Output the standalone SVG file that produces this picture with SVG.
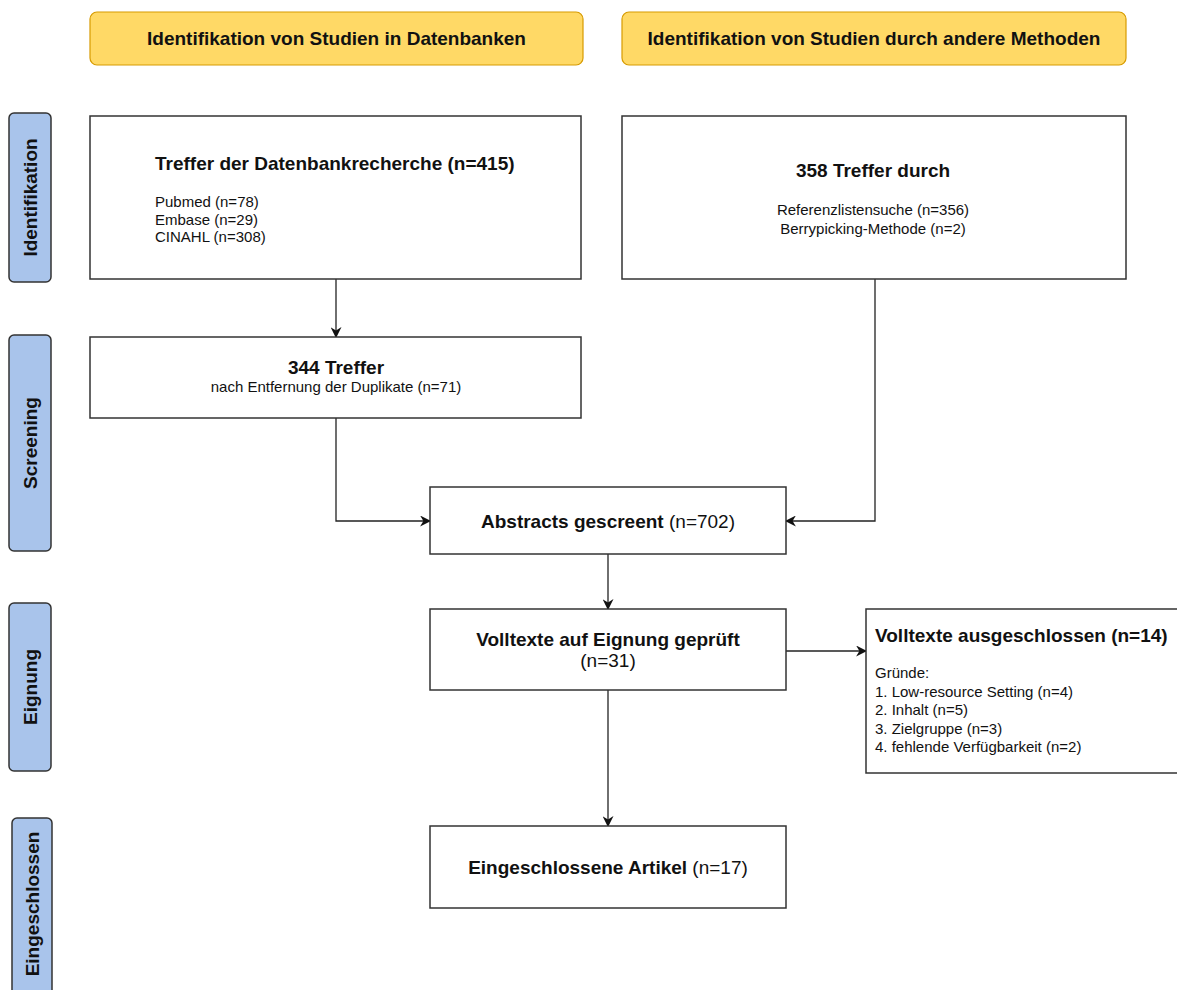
<svg xmlns="http://www.w3.org/2000/svg" width="1177" height="990" viewBox="0 0 1177 990">
  <style>
    text { font-family: "Liberation Sans", Arial, sans-serif; fill: #111; }
    .hdr { fill: #FFD966; stroke: #D79B00; stroke-width: 1.2; }
    .phase { fill: #A9C4EB; stroke: #333; stroke-width: 1.5; }
    .box { fill: #fff; stroke: #333; stroke-width: 1.5; }
    .b { font-weight: bold; }
    .t19 { font-size: 19px; }
    .t15 { font-size: 15px; }
    .mid { text-anchor: middle; }
    .edge { fill: none; stroke: #222; stroke-width: 1.3; marker-end: url(#arrow); }
  </style>
  <defs>
    <marker id="arrow" viewBox="0 0 10 10" refX="9" refY="5" markerWidth="11" markerHeight="11" markerUnits="userSpaceOnUse" orient="auto">
      <path d="M0,0 L10,5 L0,10 L3,5 z" fill="#111"/>
    </marker>
  </defs>
  <rect width="1177" height="990" fill="#fff"/>

  <!-- column headers -->
  <g id="hdr-databases">
    <rect class="hdr" x="90" y="12" width="493" height="53" rx="7"/>
    <text class="b t19 mid" x="336.5" y="45">Identifikation von Studien in Datenbanken</text>
  </g>
  <g id="hdr-other">
    <rect class="hdr" x="622" y="12" width="504" height="53" rx="7"/>
    <text class="b t19 mid" x="874" y="45">Identifikation von Studien durch andere Methoden</text>
  </g>

  <!-- phase labels -->
  <g id="phase-identifikation">
    <rect class="phase" x="9" y="113" width="42" height="169" rx="5"/>
    <text class="b t19 mid" transform="translate(37 197.5) rotate(-90)">Identifikation</text>
  </g>
  <g id="phase-screening">
    <rect class="phase" x="9" y="335" width="42" height="216" rx="5"/>
    <text class="b t19 mid" transform="translate(37 443) rotate(-90)">Screening</text>
  </g>
  <g id="phase-eignung">
    <rect class="phase" x="9" y="603" width="42" height="168" rx="5"/>
    <text class="b t19 mid" transform="translate(37 687) rotate(-90)">Eignung</text>
  </g>
  <g id="phase-eingeschlossen">
    <rect class="phase" x="12" y="818" width="40" height="190" rx="5"/>
    <text class="b t19 mid" transform="translate(39 904) rotate(-90)">Eingeschlossen</text>
  </g>

  <!-- connectors -->
  <g id="connectors">
    <path class="edge" d="M336,279 V337"/>
    <path class="edge" d="M336,418 V521 H430"/>
    <path class="edge" d="M875,279 V521 H786"/>
    <path class="edge" d="M608,554 V609"/>
    <path class="edge" d="M786,651 H866"/>
    <path class="edge" d="M608,690 V826"/>
  </g>

  <!-- nodes -->
  <g id="n-datenbank">
    <rect class="box" x="90" y="116" width="491" height="163"/>
    <text class="b t19" x="155" y="170">Treffer der Datenbankrecherche (n=415)</text>
    <text class="t15" x="155" y="207">Pubmed (n=78)</text>
    <text class="t15" x="155" y="224.5">Embase (n=29)</text>
    <text class="t15" x="155" y="242">CINAHL (n=308)</text>
  </g>
  <g id="n-andere">
    <rect class="box" x="622" y="116" width="504" height="163"/>
    <text class="b t19 mid" x="873" y="177">358 Treffer durch</text>
    <text class="t15 mid" x="873" y="215">Referenzlistensuche (n=356)</text>
    <text class="t15 mid" x="873" y="234">Berrypicking-Methode (n=2)</text>
  </g>
  <g id="n-duplikate">
    <rect class="box" x="90" y="337" width="491" height="81"/>
    <text class="b t19 mid" x="336" y="374">344 Treffer</text>
    <text class="t15 mid" x="336" y="392">nach Entfernung der Duplikate (n=71)</text>
  </g>
  <g id="n-abstracts">
    <rect class="box" x="430" y="487" width="356" height="67"/>
    <text class="t19 mid" x="608" y="528"><tspan class="b">Abstracts gescreent</tspan> (n=702)</text>
  </g>
  <g id="n-volltexte">
    <rect class="box" x="430" y="609" width="356" height="81"/>
    <text class="b t19 mid" x="608" y="646">Volltexte auf Eignung geprüft</text>
    <text class="t19 mid" x="608" y="667">(n=31)</text>
  </g>
  <g id="n-ausgeschlossen">
    <rect class="box" x="866" y="609" width="320" height="164"/>
    <text class="b t19" x="875" y="642">Volltexte ausgeschlossen (n=14)</text>
    <text class="t15" x="875" y="678">Gründe:</text>
    <text class="t15" x="875" y="696.5">1. Low-resource Setting (n=4)</text>
    <text class="t15" x="875" y="715">2. Inhalt (n=5)</text>
    <text class="t15" x="875" y="733.5">3. Zielgruppe (n=3)</text>
    <text class="t15" x="875" y="752">4. fehlende Verfügbarkeit (n=2)</text>
  </g>
  <g id="n-eingeschlossen">
    <rect class="box" x="430" y="826" width="356" height="82"/>
    <text class="t19 mid" x="608" y="874"><tspan class="b">Eingeschlossene Artikel</tspan> (n=17)</text>
  </g>
</svg>
